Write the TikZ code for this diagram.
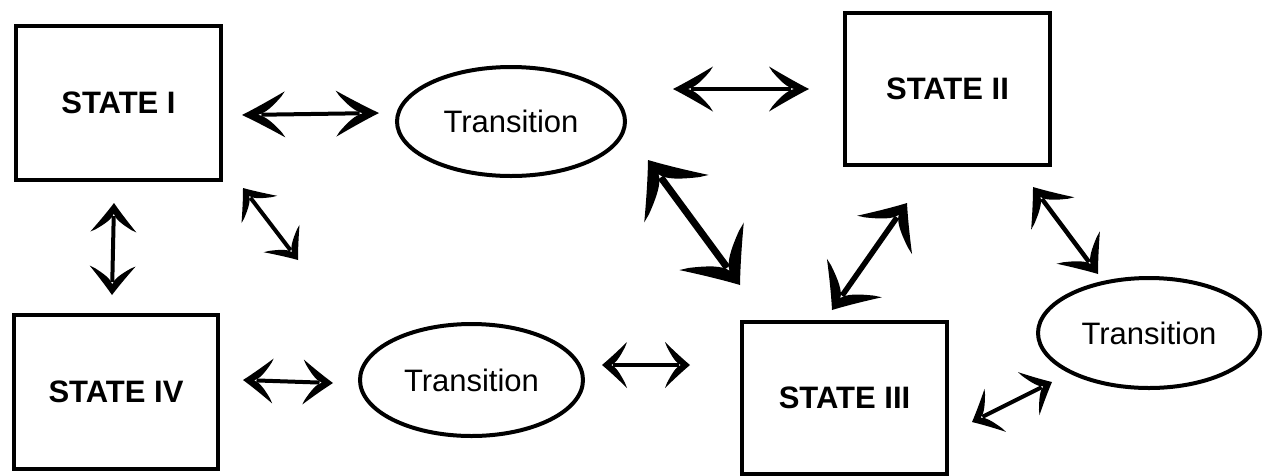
\documentclass[tikz,border=0pt]{standalone}
\usepackage{fontspec}
\setmainfont{Liberation Sans}
\usetikzlibrary{arrows.meta,shapes.geometric}

% A swept, brush-like arrow head: two curved barbs meeting at the tip.
\pgfdeclarearrow{
  name = Swept,
  parameters = {\the\pgfarrowlength,\the\pgfarrowwidth},
  setup code = {
    \pgfarrowssettipend{0pt}
    \pgfarrowssetbackend{-\pgfarrowlength}
    \pgfarrowssetlineend{-0.45\pgfarrowlength}
    \pgfarrowshullpoint{0pt}{0pt}
    \pgfarrowsupperhullpoint{-\pgfarrowlength}{0.5\pgfarrowwidth}
    \pgfarrowssavethe\pgfarrowlength
    \pgfarrowssavethe\pgfarrowwidth
  },
  drawing code = {
    \pgfpathmoveto{\pgfqpoint{0pt}{0pt}}
    \pgfpathcurveto{\pgfqpoint{-0.33\pgfarrowlength}{0.15\pgfarrowwidth}}
                   {\pgfqpoint{-0.7\pgfarrowlength}{0.34\pgfarrowwidth}}
                   {\pgfqpoint{-\pgfarrowlength}{0.5\pgfarrowwidth}}
    \pgfpathlineto{\pgfqpoint{-0.92\pgfarrowlength}{0.39\pgfarrowwidth}}
    \pgfpathcurveto{\pgfqpoint{-0.72\pgfarrowlength}{0.18\pgfarrowwidth}}
                   {\pgfqpoint{-0.55\pgfarrowlength}{0.035\pgfarrowwidth}}
                   {\pgfqpoint{-0.37\pgfarrowlength}{0pt}}
    \pgfpathcurveto{\pgfqpoint{-0.55\pgfarrowlength}{-0.035\pgfarrowwidth}}
                   {\pgfqpoint{-0.72\pgfarrowlength}{-0.18\pgfarrowwidth}}
                   {\pgfqpoint{-0.92\pgfarrowlength}{-0.39\pgfarrowwidth}}
    \pgfpathlineto{\pgfqpoint{-\pgfarrowlength}{-0.5\pgfarrowwidth}}
    \pgfpathcurveto{\pgfqpoint{-0.7\pgfarrowlength}{-0.34\pgfarrowwidth}}
                   {\pgfqpoint{-0.33\pgfarrowlength}{-0.15\pgfarrowwidth}}
                   {\pgfqpoint{0pt}{0pt}}
    \pgfpathclose
    \pgfusepathqfill
  },
  defaults = {length = 40pt, width = 45pt}
}

\tikzset{
  statebox/.style={draw, line width=4pt, rectangle, inner sep=0pt,
    font=\fontsize{31}{37}\selectfont\bfseries},
  transnode/.style={draw, line width=4pt, ellipse, inner sep=0pt,
    font=\fontsize{31}{37}\selectfont},
  biarrow/.style n args={3}{line width=#1, line cap=butt,
    {Swept[length=#2,width=#3]}-{Swept[length=#2,width=#3]}},
}

\begin{document}
\begin{tikzpicture}[x=1pt, y=-1pt]
  \useasboundingbox (0,0) rectangle (1271,475);

  % states
  \node[statebox, minimum width=205pt, minimum height=154pt] (s1) at (118.5,103) {STATE I};
  \node[statebox, minimum width=205pt, minimum height=152pt] (s2) at (947.5,89) {STATE II};
  \node[statebox, minimum width=205pt, minimum height=152pt] (s3) at (844.5,398) {STATE III};
  \node[statebox, minimum width=204pt, minimum height=154pt] (s4) at (116,392) {STATE IV};

  % transitions
  \node[transnode, minimum width=228pt, minimum height=109pt] (t1) at (511,121.5) {Transition};
  \node[transnode, minimum width=223pt, minimum height=112pt] (t2) at (471.5,380) {Transition};
  \node[transnode, minimum width=222pt, minimum height=110pt] (t3) at (1149,333) {Transition};

  % arrow end points
  \coordinate (s1t1a) at (242,115);  \coordinate (s1t1b) at (379,113);
  \coordinate (t1s2a) at (673,89);   \coordinate (t1s2b) at (809,89);
  \coordinate (t1s3a) at (648,160);  \coordinate (t1s3b) at (740,285);
  \coordinate (s3s2a) at (832,310);  \coordinate (s3s2b) at (907,203);
  \coordinate (s2t3a) at (1033,187); \coordinate (s2t3b) at (1098,274);
  \coordinate (s3t3a) at (972,422);  \coordinate (s3t3b) at (1052,382);
  \coordinate (s1s4a) at (114,203);  \coordinate (s1s4b) at (112,295);
  \coordinate (s1t2a) at (243,188);  \coordinate (s1t2b) at (298,260);
  \coordinate (s4t2a) at (243,380);  \coordinate (s4t2b) at (333,383);
  \coordinate (t2s3a) at (602,365);  \coordinate (t2s3b) at (690,365);

  % connectors
  \draw[biarrow={4pt}{43pt}{46pt}]   (s1t1a) -- (s1t1b);
  \draw[biarrow={4pt}{40pt}{45pt}]   (t1s2a) -- (t1s2b);
  \draw[biarrow={7pt}{48pt}{80pt}]   (t1s3a) -- (t1s3b);
  \draw[biarrow={5.5pt}{39pt}{67pt}] (s3s2a) -- (s3s2b);
  \draw[biarrow={4.5pt}{33pt}{54pt}] (s2t3a) -- (s2t3b);
  \draw[biarrow={4pt}{26pt}{48pt}]   (s3t3a) -- (s3t3b);
  \draw[biarrow={4pt}{29pt}{46pt}]   (s1s4a) -- (s1s4b);
  \draw[biarrow={4pt}{27pt}{45pt}]   (s1t2a) -- (s1t2b);
  \draw[biarrow={4pt}{30pt}{45pt}]   (s4t2a) -- (s4t2b);
  \draw[biarrow={4pt}{25pt}{46pt}]   (t2s3a) -- (t2s3b);
\end{tikzpicture}
\end{document}
